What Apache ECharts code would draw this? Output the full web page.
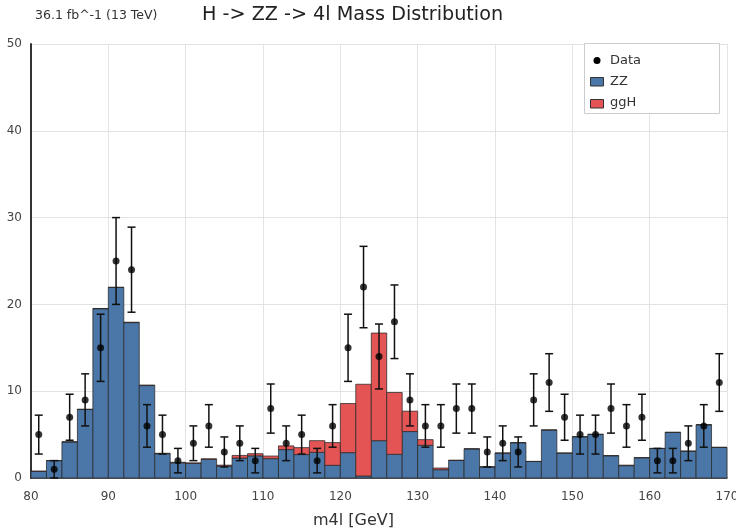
<!DOCTYPE html>
<html><head><meta charset="utf-8">
<script src="https://cdn.jsdelivr.net/npm/echarts@6/dist/echarts.min.js"></script>
<style>html,body{margin:0;padding:0;background:#fff}#c{width:736px;height:532px}</style>
</head><body><div id="c"></div>
<script>
const binEdgesLow = [80,82,84,86,88,90,92,94,96,98,100,102,104,106,108,110,112,114,116,118,120,122,124,126,128,130,132,134,136,138,140,142,144,146,148,150,152,154,156,158,160,162,164,166,168];
const binWidth = 2;
const zzValues = [0.75,2.0,4.15,7.9,19.5,21.95,17.9,10.65,2.8,1.75,1.68,2.15,1.38,2.3,2.55,2.23,3.27,2.7,2.96,1.46,2.92,0.23,4.3,2.73,5.35,3.77,0.96,2.02,3.35,1.27,2.86,4.06,1.9,5.52,2.86,4.75,5.02,2.56,1.42,2.33,3.4,5.25,3.08,6.13,3.52];
const ggHValues = [0.06,0.02,0.02,0.02,0.03,0.03,0.05,0.06,0.05,0.06,0.06,0.06,0.1,0.3,0.25,0.3,0.43,0.8,1.34,2.62,5.66,10.57,12.4,7.12,2.35,0.65,0.19,0.03,0.02,0.02,0.02,0.02,0.02,0.02,0.02,0.02,0.02,0.02,0.06,0.02,0.02,0.02,0.02,0.02,0.02];
const dataX = [81,83,85,87,89,91,93,95,97,99,101,103,105,107,109,111,113,115,117,119,121,123,125,127,129,131,133,135,137,139,141,143,145,147,149,151,153,155,157,159,161,163,165,167,169];
const dataY = [5,1,7,9,15,25,24,6,5,2,4,6,3,4,2,8,4,5,2,6,15,22,14,18,9,6,6,8,8,3,4,3,9,11,7,5,5,8,6,7,2,2,4,6,11];
const dataErr = [2.24,1,2.65,3,3.87,5,4.9,2.45,2.24,1.41,2,2.45,1.73,2,1.41,2.83,2,2.24,1.41,2.45,3.87,4.69,3.74,4.24,3,2.45,2.45,2.83,2.83,1.73,2,1.73,3,3.32,2.65,2.24,2.24,2.83,2.45,2.65,1.41,1.41,2,2.45,3.32];
const xTicks = [80,90,100,110,120,130,140,150,160,170];
const yTicks = [0,10,20,30,40,50];
const legendNames = ['Data', 'ZZ', 'ggH'];

const BLUE = '#4a77a7', RED = '#e45454';
const chart = echarts.init(document.getElementById('c'));
const FONT = 'DejaVu Sans';

function barRender(lowerArr, upperArr) {
  return function(params, api) {
    const i = params.dataIndex;
    const x0 = binEdgesLow[i], x1 = x0 + binWidth;
    const lo = lowerArr ? lowerArr[i] : 0;
    const hi = lo + upperArr[i];
    const p0 = api.coord([x0, lo]);
    const p1 = api.coord([x1, hi]);
    return {
      type: 'rect',
      shape: {x: p0[0], y: p1[1], width: p1[0]-p0[0], height: p0[1]-p1[1]},
      style: {fill: api.visual('color'), stroke: 'rgba(40,40,40,0.75)', lineWidth: 1}
    };
  };
}

const zzData = binEdgesLow.map((x,i)=>[x, zzValues[i]]);
const ggHData = binEdgesLow.map((x,i)=>[x, ggHValues[i]]);
const errData = dataX.map((x,i)=>[x, dataY[i], dataErr[i]]);

const legendGraphic = [
  {type: 'rect', shape: {x: 584.5, y: 43.5, width: 135, height: 70}, style: {fill: '#fff', stroke: '#ccc', lineWidth: 1}, z: 10},
  {type: 'circle', shape: {cx: 597, cy: 60.5, r: 3.5}, style: {fill: '#000'}, z: 11},
  {type: 'rect', shape: {x: 590.5, y: 77.5, width: 13, height: 8.5}, style: {fill: BLUE, stroke: '#333', lineWidth: 1}, z: 11},
  {type: 'rect', shape: {x: 590.5, y: 99.5, width: 13, height: 8.5}, style: {fill: RED, stroke: '#333', lineWidth: 1}, z: 11},
  {type: 'text', x: 610, y: 60.5, style: {text: legendNames[0], font: '13px "DejaVu Sans"', fill: '#333', verticalAlign: 'middle'}, z: 11},
  {type: 'text', x: 610, y: 81.5, style: {text: legendNames[1], font: '13px "DejaVu Sans"', fill: '#333', verticalAlign: 'middle'}, z: 11},
  {type: 'text', x: 610, y: 103, style: {text: legendNames[2], font: '13px "DejaVu Sans"', fill: '#333', verticalAlign: 'middle'}, z: 11}
];

chart.setOption({
  animation: false,
  textStyle: {fontFamily: FONT},
  title: [
    {text: 'H -> ZZ -> 4l Mass Distribution', left: 202, top: 6, padding: 0, textStyle: {fontSize: 19.2, fontWeight: 'normal', color: '#222', fontFamily: FONT}},
    {text: '36.1 fb^-1 (13 TeV)', left: 35, top: 9, padding: 0, textStyle: {fontSize: 12.5, fontWeight: 'normal', color: '#333', fontFamily: FONT}}
  ],
  grid: {left: 31, right: 9, top: 44, bottom: 54, containLabel: false, outerBoundsMode: 'none'},
  xAxis: {
    type: 'value', min: 80, max: 170, interval: 10,
    axisLine: {show: true, onZero: false, lineStyle: {color: '#333', width: 1.5}},
    axisTick: {show: false},
    axisLabel: {fontSize: 12, color: '#444', margin: 13, fontFamily: FONT,
      formatter: v => xTicks.includes(v) ? String(v) : ''},
    splitLine: {show: true, lineStyle: {color: '#e3e3e3', width: 1}}
  },
  yAxis: {
    type: 'value', min: 0, max: 50, interval: 10,
    axisLine: {show: true, lineStyle: {color: '#333', width: 2}},
    axisTick: {show: false},
    axisLabel: {fontSize: 12, color: '#444', margin: 9, fontFamily: FONT,
      formatter: v => yTicks.includes(v) ? String(v) : ''},
    splitLine: {show: true, lineStyle: {color: '#e3e3e3', width: 1}}
  },
  graphic: [
    {type: 'text', left: 313, top: 513, style: {text: 'm4l [GeV]', font: '16px "DejaVu Sans"', fill: '#333'}}
  ].concat(legendGraphic),
  series: [
    {name: 'ZZ', type: 'custom', color: BLUE, renderItem: barRender(null, zzValues), data: zzData, encode: {x: 0, y: 1}, z: 2},
    {name: 'ggH', type: 'custom', color: RED, renderItem: barRender(zzValues, ggHValues), data: ggHData, encode: {x: 0, y: 1}, z: 2},
    {name: 'Data error', type: 'custom', z: 4,
      renderItem: function(params, api) {
        const x = api.value(0), y = api.value(1), e = api.value(2);
        const lo = Math.max(0, y - e);
        const pTop = api.coord([x, y + e]);
        const pBot = api.coord([x, lo]);
        const cap = 4;
        const st = {stroke: '#111', lineWidth: 1.5};
        return {type: 'group', children: [
          {type: 'line', shape: {x1: pTop[0], y1: pTop[1], x2: pBot[0], y2: pBot[1]}, style: st},
          {type: 'line', shape: {x1: pTop[0]-cap, y1: pTop[1], x2: pTop[0]+cap, y2: pTop[1]}, style: st},
          {type: 'line', shape: {x1: pBot[0]-cap, y1: pBot[1], x2: pBot[0]+cap, y2: pBot[1]}, style: st}
        ]};
      },
      data: errData, encode: {x: 0, y: 1}
    },
    {name: 'Data', type: 'scatter', symbol: 'circle', symbolSize: 7, itemStyle: {color: '#000'}, z: 5,
      data: dataX.map((x,i)=>[x, dataY[i]])}
  ]
});
</script></body></html>
